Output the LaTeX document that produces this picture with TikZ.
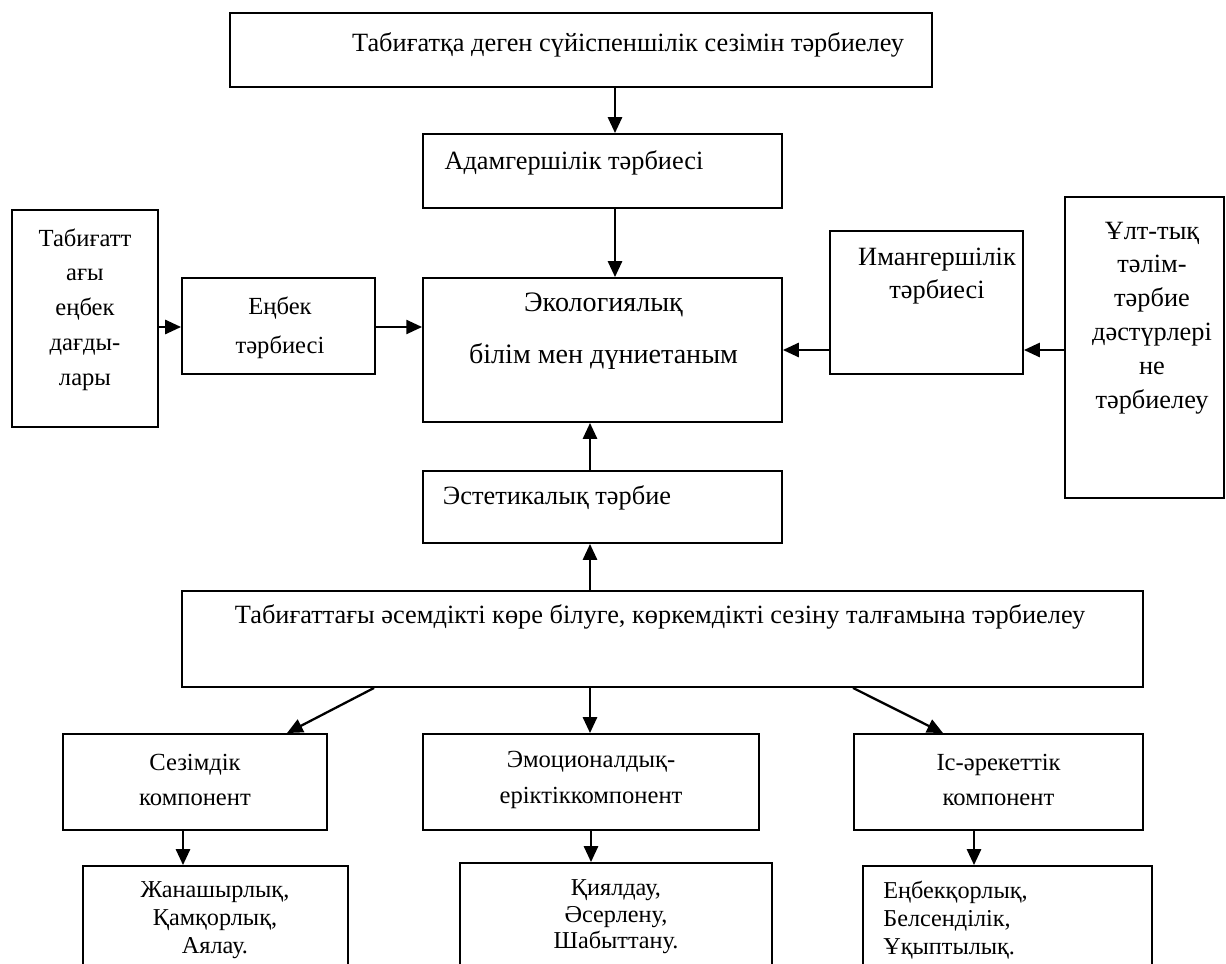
\documentclass[tikz,border=0pt]{standalone}
\usepackage{fontspec}
\setmainfont{Liberation Serif}
\usetikzlibrary{arrows.meta}

\tikzset{
  box/.style={draw, line width=1.1pt, inner sep=0pt},
  txt/.style={font=\fontsize{15}{#1}\selectfont, align=center, inner sep=0pt},
  txt/.default=20,
  arr/.style={line width=1.3pt, -{Triangle[length=9pt,width=8pt]}}
}

\begin{document}
\begin{tikzpicture}[x=0.02cm,y=-0.02cm]
\useasboundingbox (0,0) rectangle (1226,963);

% boxes
\node[box, minimum width=14.04cm, minimum height=1.48cm] (top) at (581,50) {};
\node[box, minimum width=7.18cm, minimum height=1.48cm] (adam) at (602.5,171) {};
\node[box, minimum width=7.18cm, minimum height=2.88cm] (ekol) at (602.5,350) {};
\node[box, minimum width=7.18cm, minimum height=1.44cm] (estet) at (602.5,507) {};
\node[box, minimum width=2.92cm, minimum height=4.34cm] (tab) at (85,318.5) {};
\node[box, minimum width=3.86cm, minimum height=1.92cm] (enbek) at (278.5,326) {};
\node[box, minimum width=3.86cm, minimum height=2.86cm] (iman) at (926.5,302.5) {};
\node[box, minimum width=3.18cm, minimum height=6.02cm] (ult) at (1144.5,347.5) {};
\node[box, minimum width=19.22cm, minimum height=1.92cm] (big) at (662.5,639) {};
\node[box, minimum width=5.28cm, minimum height=1.92cm] (sez) at (195,782) {};
\node[box, minimum width=6.72cm, minimum height=1.92cm] (emo) at (591,782) {};
\node[box, minimum width=5.78cm, minimum height=1.92cm] (isa) at (998.5,782) {};
\node[box, minimum width=5.30cm, minimum height=2.68cm] (zhan) at (215.5,933) {};
\node[box, minimum width=6.24cm, minimum height=2.74cm] (kiyal) at (616,931.5) {};
\node[box, minimum width=5.78cm, minimum height=2.68cm] (enbk) at (1007.5,933) {};

% texts
\node[txt] (topt) at (628,45) {Табиғатқа деген сүйіспеншілік сезімін тәрбиелеу};
\node[txt] (adamt) at (574,163) {Адамгершілік тәрбиесі};
\node[txt=29.5, font=\fontsize{16}{29.5}\selectfont] (ekolt) at (603.5,331) {Экологиялық\\білім мен дүниетаным};
\node[txt] (estett) at (557,498) {Эстетикалық тәрбие};
\node[txt=19.8, font=\fontsize{14}{19.8}\selectfont] (tabt) at (85,309.5) {Табиғатт\\ағы\\еңбек\\дағды-\\лары};
\node[txt=22, font=\fontsize{14}{22}\selectfont] (enbekt) at (280,327.5) {Еңбек\\тәрбиесі};
\node[txt=18.7] (imant) at (937,276.5) {Имангершілік\\тәрбиесі};
\node[txt=19.3] (ultt) at (1152,318) {Ұлт-тық\\тәлім-\\тәрбие\\дәстүрлері\\не\\тәрбиелеу};
\node[txt] (bigt) at (660,617) {Табиғаттағы әсемдікті көре білуге, көркемдікті сезіну талғамына тәрбиелеу};
\node[txt=20.4, font=\fontsize{14}{20.4}\selectfont] (sezt) at (195,780) {Сезімдік\\компонент};
\node[txt=20.4, font=\fontsize{14}{20.4}\selectfont] (emot) at (591,780) {Эмоционалдық-\\еріктіккомпонент};
\node[txt=20.4, font=\fontsize{14}{20.4}\selectfont] (isat) at (998.5,780) {Іс-әрекеттік\\компонент};
\node[txt, font=\fontsize{13.8}{15.8}\selectfont] (zhant) at (215,920) {Жанашырлық,\\Қамқорлық,\\Аялау.};
\node[txt, font=\fontsize{13.8}{15}\selectfont] (kiyalt) at (616,917) {Қиялдау,\\Әсерлену,\\Шабыттану.};
\node[txt, font=\fontsize{13.8}{15.8}\selectfont, align=left, anchor=west] (enbkt) at (883,920) {Еңбекқорлық,\\Белсенділік,\\Ұқыптылық.};

% arrow lines
\coordinate (ax1) at (615,0);
\coordinate (ax2) at (590,0);
\coordinate (ay1) at (0,327);
\coordinate (ay2) at (0,350);
\coordinate (s1) at (374,0);
\coordinate (s2) at (287,0);
\coordinate (s3) at (853,0);
\coordinate (s4) at (943,0);
\coordinate (d1) at (183,0);
\coordinate (d2) at (591,0);
\coordinate (d3) at (974,0);

\draw[arr] (top.south -| ax1) -- (adam.north -| ax1);
\draw[arr] (adam.south -| ax1) -- (ekol.north -| ax1);
\draw[arr] (tab.east |- ay1) -- (enbek.west |- ay1);
\draw[arr] (enbek.east |- ay1) -- (ekol.west |- ay1);
\draw[arr] (ult.west |- ay2) -- (iman.east |- ay2);
\draw[arr] (iman.west |- ay2) -- (ekol.east |- ay2);
\draw[arr] (estet.north -| ax2) -- (ekol.south -| ax2);
\draw[arr] (big.north -| ax2) -- (estet.south -| ax2);
\draw[arr] (big.south -| s1) -- (sez.north -| s2);
\draw[arr] (big.south -| ax2) -- (emo.north -| ax2);
\draw[arr] (big.south -| s3) -- (isa.north -| s4);
\draw[arr] (sez.south -| d1) -- (zhan.north -| d1);
\draw[arr] (emo.south -| d2) -- (kiyal.north -| d2);
\draw[arr] (isa.south -| d3) -- (enbk.north -| d3);
\end{tikzpicture}
\end{document}
